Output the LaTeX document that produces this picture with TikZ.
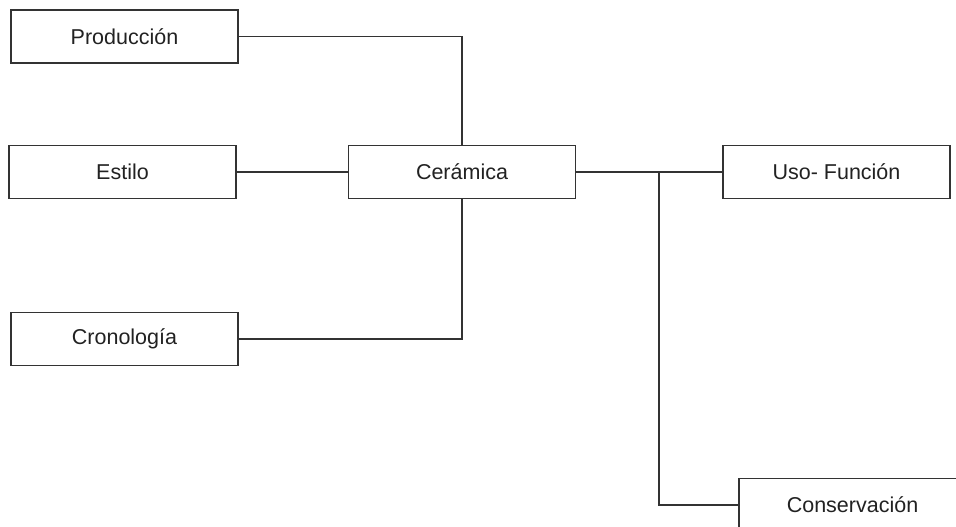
\documentclass[tikz,border=0pt]{standalone}
\usepackage{fontspec}
\setmainfont{Liberation Sans}
\definecolor{linegrey}{HTML}{333333}
\definecolor{textgrey}{HTML}{222222}
\begin{document}
\begin{tikzpicture}[x=1pt,y=-1pt,
  box/.style={draw=linegrey,line width=1.2pt,fill=white,minimum width=227pt,minimum height=53pt,
    inner sep=0pt,font=\fontsize{21.5}{24}\selectfont,text=textgrey},
  conn/.style={draw=linegrey,line width=1.2pt}]
\useasboundingbox (0,0) rectangle (956,527);
\clip (0,0) rectangle (956,527);
\fill[white] (0,0) rectangle (956,527);
\node[box] (prod) at (124.5,36.5) {Producción};
\node[box] (est) at (122.5,172) {Estilo};
\node[box] (cer) at (462,172) {Cerámica};
\node[box] (uso) at (836.5,172) {Uso- Función};
\node[box] (cro) at (124.5,339) {Cronología};
\node[box] (con) at (852.5,505) {Conservación};
\coordinate (br) at (659,172);
\draw[conn] (prod.east) -| (cer.north);
\draw[conn] (est.east) -- (cer.west);
\draw[conn] (cer.south) |- (cro.east);
\draw[conn] (cer.east) -- (uso.west);
\draw[conn] (br) |- (con.west);
\end{tikzpicture}
\end{document}
